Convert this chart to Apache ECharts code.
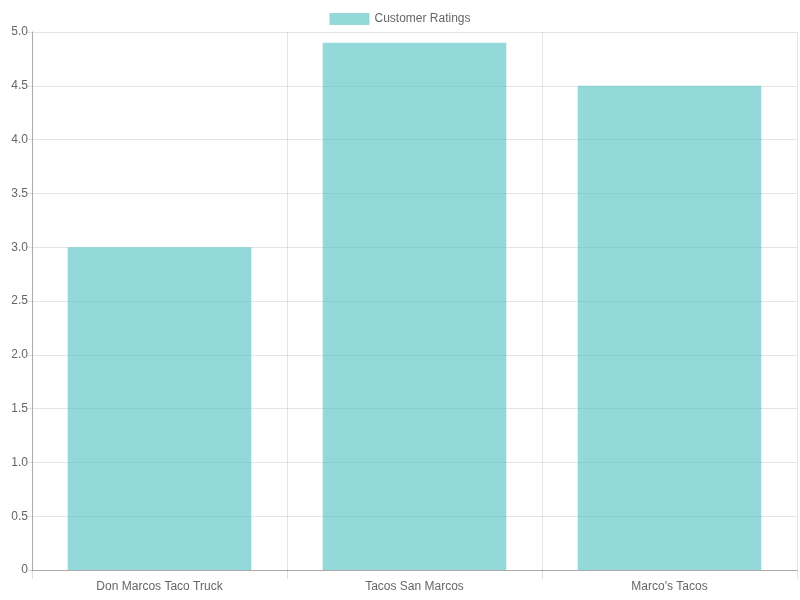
<!DOCTYPE html>
<html><head><meta charset="utf-8">
<script src="https://cdn.jsdelivr.net/npm/echarts@6/dist/echarts.min.js"></script>
<style>html,body{margin:0;padding:0;background:#fff}#c{width:800px;height:600px}</style>
</head><body><div id="c"></div>
<script>
const categories = ["Don Marcos Taco Truck", "Tacos San Marcos", "Marco's Tacos"];
const ratings = [3.0, 4.9, 4.5];
const seriesName = "Customer Ratings";
const chart = echarts.init(document.getElementById('c'));
chart.setOption({
  animation: false,
  textStyle: { fontFamily: 'Liberation Sans, Arial, sans-serif' },
  legend: {
    top: 8, left: 'center', itemWidth: 40, itemHeight: 12, itemGap: 6,
    textStyle: { color: '#666', fontSize: 12 },
    data: [{ name: seriesName, icon: 'rect' }]
  },
  grid: { left: 32, right: 3, top: 32, bottom: 30, containLabel: false },
  xAxis: {
    type: 'category', data: categories, boundaryGap: true,
    axisLine: { lineStyle: { color: '#aaa' } },
    axisTick: { show: true, length: 9, alignWithLabel: false, lineStyle: { color: 'rgba(0,0,0,0.12)' } },
    axisLabel: { color: '#666', fontSize: 12, margin: 11 },
    splitLine: { show: true, lineStyle: { color: 'rgba(0,0,0,0.1)' } }
  },
  yAxis: {
    type: 'value', min: 0, max: 5, interval: 0.5,
    axisLine: { show: true, lineStyle: { color: '#aaa' } },
    axisTick: { show: true, length: 6, lineStyle: { color: 'rgba(0,0,0,0.12)' } },
    axisLabel: { color: '#666', fontSize: 12, margin: 4,
      formatter: v => v === 0 ? '0' : v.toFixed(1) },
    splitLine: { show: true, lineStyle: { color: 'rgba(0,0,0,0.1)' } }
  },
  series: [{
    name: seriesName, type: 'bar', data: ratings, barCategoryGap: '28%',
    itemStyle: { color: 'rgba(75,192,192,0.6)' }
  }]
});
</script></body></html>
